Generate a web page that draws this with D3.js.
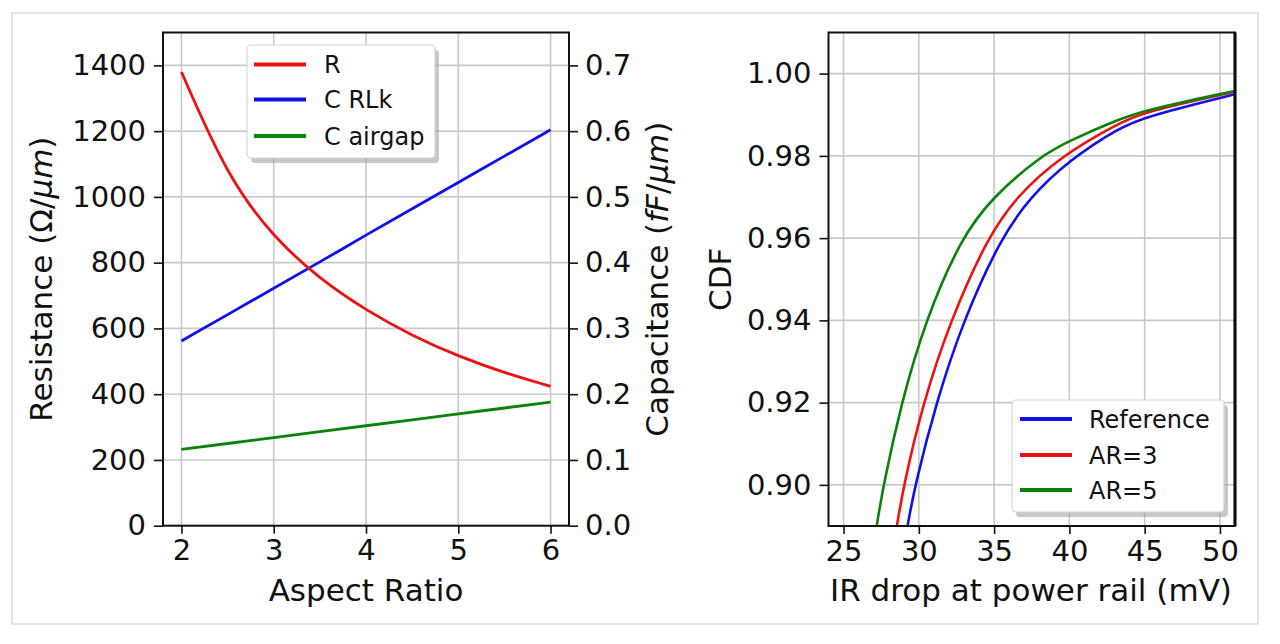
<!DOCTYPE html>
<html>
<head>
<meta charset="utf-8">
<script src="https://cdn.jsdelivr.net/npm/d3@7"></script>
<style>
  html, body { margin: 0; padding: 0; background: #fff; }
  svg { display: block; font-family: "DejaVu Sans", sans-serif; }
  .tick text { font-size: 29px; fill: #111; font-family: "DejaVu Sans", sans-serif; }
  .tick line { stroke: #111; stroke-width: 1.6; }
  .domain { display: none; }
  .grid line { stroke: #c9c9c9; stroke-width: 1.6; }
  .lab { font-size: 31px; fill: #111; }
  .leg { font-size: 24px; fill: #111; }
</style>
</head>
<body>
<svg id="chart" width="1280" height="644"></svg>
<script>
// ---------- Left panel data ----------
const aspectRatio = [2, 2.5, 3, 3.5, 4, 4.5, 5, 5.5, 6];
const resistance  = [1380, 1060, 876, 750, 655, 578, 515, 465, 424];          // Ω/µm
const capRLk      = [0.281, 0.321, 0.361, 0.401, 0.442, 0.482, 0.522, 0.562, 0.602]; // fF/µm
const capAirgap   = [0.116, 0.125, 0.134, 0.143, 0.152, 0.161, 0.170, 0.179, 0.188]; // fF/µm
const leftXTicks  = [2, 3, 4, 5, 6];
const leftYTicks  = [0, 200, 400, 600, 800, 1000, 1200, 1400];
const rightYTicks = [0.0, 0.1, 0.2, 0.3, 0.4, 0.5, 0.6, 0.7];
const leftLegend  = ["R", "C RLk", "C airgap"];

// ---------- Right panel data (IR drop mV, CDF) ----------
const refIR  = [29.25, 29.75, 31.15, 32.95, 35.45, 37.4, 40.0, 43.3, 45.0, 51.0];
const refCDF = [0.89, 0.90, 0.92, 0.94, 0.96, 0.97, 0.9790, 0.9868, 0.9895, 0.995];
const ar3IR  = [28.54, 29.0, 30.28, 32.1, 34.55, 36.45, 39.45, 43.3, 45.0, 51.0];
const ar3CDF = [0.89, 0.90, 0.92, 0.94, 0.96, 0.97, 0.98, 0.988, 0.9907, 0.9956];
const ar5IR  = [27.2, 27.65, 28.84, 30.44, 32.8, 34.9, 38.1, 40.0, 43.3, 45.0, 51.0];
const ar5CDF = [0.89, 0.90, 0.92, 0.94, 0.96, 0.97, 0.98, 0.9837, 0.9889, 0.9911, 0.9958];
const cdfXTicks = [25, 30, 35, 40, 45, 50];
const cdfYTicks = [0.90, 0.92, 0.94, 0.96, 0.98, 1.00];
const rightLegend = ["Reference", "AR=3", "AR=5"];

const RED = "#ee1111", BLUE = "#1010ee", GREEN = "#0a820a";

const svg = d3.select("#chart");

// figure border
svg.append("rect").attr("x", 12).attr("y", 13).attr("width", 1246).attr("height", 611)
  .attr("fill", "none").attr("stroke", "#dcdcdc").attr("stroke-width", 1.5);

// ================= LEFT PANEL =================
const L = {x0: 163, x1: 569, y0: 32.5, y1: 525.7};
const xL = d3.scaleLinear().domain([1.8, 6.2]).range([L.x0, L.x1]);
const yL = d3.scaleLinear().domain([0, 1500]).range([L.y1, L.y0]);
const yR = d3.scaleLinear().domain([0, 0.75]).range([L.y1, L.y0]);

const gL = svg.append("g");
const gridL = gL.append("g").attr("class", "grid");
gridL.selectAll(".v").data(leftXTicks).join("line")
  .attr("x1", d => xL(d)).attr("x2", d => xL(d)).attr("y1", L.y0).attr("y2", L.y1);
gridL.selectAll(".h").data(leftYTicks.filter(d => d > 0)).join("line")
  .attr("x1", L.x0).attr("x2", L.x1).attr("y1", d => yL(d)).attr("y2", d => yL(d));

gL.append("defs").append("clipPath").attr("id", "clipL").append("rect")
  .attr("x", L.x0).attr("y", L.y0).attr("width", L.x1 - L.x0).attr("height", L.y1 - L.y0);

const smooth = d3.curveBasis;
const lineR = d3.line().x((d, i) => xL(aspectRatio[i])).y(d => yL(d)).curve(smooth);
const lineC = d3.line().x((d, i) => xL(aspectRatio[i])).y(d => yR(d)).curve(smooth);
const plotL = gL.append("g").attr("clip-path", "url(#clipL)");
plotL.append("path").datum(capAirgap).attr("d", lineC).attr("fill", "none").attr("stroke", GREEN).attr("stroke-width", 2.8);
plotL.append("path").datum(capRLk).attr("d", lineC).attr("fill", "none").attr("stroke", BLUE).attr("stroke-width", 2.8);
plotL.append("path").datum(resistance).attr("d", lineR).attr("fill", "none").attr("stroke", RED).attr("stroke-width", 2.8);

gL.append("g").attr("transform", `translate(0,${L.y1})`)
  .call(d3.axisBottom(xL).tickValues(leftXTicks).tickSize(8).tickPadding(6).tickFormat(d3.format("d")));
gL.append("g").attr("transform", `translate(${L.x0},0)`)
  .call(d3.axisLeft(yL).tickValues(leftYTicks).tickSize(9).tickPadding(8).tickFormat(d3.format("d")));
gL.append("g").attr("transform", `translate(${L.x1},0)`)
  .call(d3.axisRight(yR).tickValues(rightYTicks).tickSize(9).tickPadding(7).tickFormat(d3.format(".1f")));

gL.append("rect").attr("x", L.x0).attr("y", L.y0).attr("width", L.x1 - L.x0).attr("height", L.y1 - L.y0)
  .attr("fill", "none").attr("stroke", "#111").attr("stroke-width", 2);

// labels
gL.append("text").attr("class", "lab").attr("text-anchor", "middle")
  .attr("x", 366).attr("y", 601).text("Aspect Ratio");
const ylab = gL.append("text").attr("class", "lab").attr("text-anchor", "middle")
  .attr("transform", `translate(52,${(L.y0 + L.y1) / 2}) rotate(-90)`);
ylab.append("tspan").text("Resistance (Ω/");
ylab.append("tspan").attr("font-style", "italic").text("μm");
ylab.append("tspan").text(")");
const ylab2 = gL.append("text").attr("class", "lab").attr("text-anchor", "middle")
  .attr("transform", `translate(668,${(L.y0 + L.y1) / 2}) rotate(-90)`);
ylab2.append("tspan").text("Capacitance (");
ylab2.append("tspan").attr("font-style", "italic").text("fF");
ylab2.append("tspan").text("/");
ylab2.append("tspan").attr("font-style", "italic").text("μm");
ylab2.append("tspan").text(")");

// legend helper
function legend(g, x, y, w, h, rows, colors, lineX0, lineX1, textX) {
  g.append("rect").attr("x", x + 4).attr("y", y + 5).attr("width", w).attr("height", h).attr("rx", 4)
    .attr("fill", "#9a9a9a").attr("opacity", 0.55);
  g.append("rect").attr("x", x).attr("y", y).attr("width", w).attr("height", h).attr("rx", 4)
    .attr("fill", "#fff").attr("stroke", "#d4d4d4").attr("stroke-width", 1.2);
  rows.forEach((r, i) => {
    g.append("line").attr("x1", lineX0).attr("x2", lineX1).attr("y1", r.y).attr("y2", r.y)
      .attr("stroke", colors[i]).attr("stroke-width", 4);
    g.append("text").attr("class", "leg").attr("x", textX).attr("y", r.y + 8.5).text(r.label);
  });
}
legend(gL, 247, 45, 188, 113,
  leftLegend.map((l, i) => ({label: l, y: [64.5, 99.5, 136][i]})),
  [RED, BLUE, GREEN], 254, 306, 324);

// ================= RIGHT PANEL =================
const P = {x0: 828.5, x1: 1235, y0: 32.5, y1: 526};
const x2 = d3.scaleLinear().domain([24, 51]).range([P.x0, P.x1]);
const y2 = d3.scaleLinear().domain([0.89, 1.01]).range([P.y1, P.y0]);

const gR = svg.append("g");
const gridR = gR.append("g").attr("class", "grid");
gridR.selectAll(".v").data(cdfXTicks).join("line")
  .attr("x1", d => x2(d)).attr("x2", d => x2(d)).attr("y1", P.y0).attr("y2", P.y1);
gridR.selectAll(".h").data(cdfYTicks).join("line")
  .attr("x1", P.x0).attr("x2", P.x1).attr("y1", d => y2(d)).attr("y2", d => y2(d));

gR.append("defs").append("clipPath").attr("id", "clipR").append("rect")
  .attr("x", P.x0).attr("y", P.y0).attr("width", P.x1 - P.x0).attr("height", P.y1 - P.y0);
const plotR = gR.append("g").attr("clip-path", "url(#clipR)");
function cdfLine(xs, ys, color) {
  const pts = xs.map((v, i) => [v, ys[i]]);
  plotR.append("path").datum(pts)
    .attr("d", d3.line().x(d => x2(d[0])).y(d => y2(d[1])).curve(d3.curveBasis))
    .attr("fill", "none").attr("stroke", color).attr("stroke-width", 2.6);
}
cdfLine(refIR, refCDF, BLUE);
cdfLine(ar3IR, ar3CDF, RED);
cdfLine(ar5IR, ar5CDF, GREEN);

gR.append("g").attr("transform", `translate(0,${P.y1})`)
  .call(d3.axisBottom(x2).tickValues(cdfXTicks).tickSize(8).tickPadding(6).tickFormat(d3.format("d")));
gR.append("g").attr("transform", `translate(${P.x0},0)`)
  .call(d3.axisLeft(y2).tickValues(cdfYTicks).tickSize(9).tickPadding(8).tickFormat(d3.format(".2f")));

gR.append("rect").attr("x", P.x0).attr("y", P.y0).attr("width", P.x1 - P.x0).attr("height", P.y1 - P.y0)
  .attr("fill", "none").attr("stroke", "#111").attr("stroke-width", 2);
gR.append("line").attr("x1", P.x1).attr("x2", P.x1).attr("y1", P.y0).attr("y2", P.y1)
  .attr("stroke", "#111").attr("stroke-width", 3.2);

gR.append("text").attr("class", "lab").attr("text-anchor", "middle")
  .attr("x", 1031).attr("y", 601).text("IR drop at power rail (mV)");
gR.append("text").attr("class", "lab").attr("text-anchor", "middle")
  .attr("transform", `translate(731,${(P.y0 + P.y1) / 2}) rotate(-90)`).text("CDF");

legend(gR, 1012, 400, 212, 112,
  rightLegend.map((l, i) => ({label: l, y: [419, 455, 490][i]})),
  [BLUE, RED, GREEN], 1020, 1072, 1089);
</script>
</body>
</html>
